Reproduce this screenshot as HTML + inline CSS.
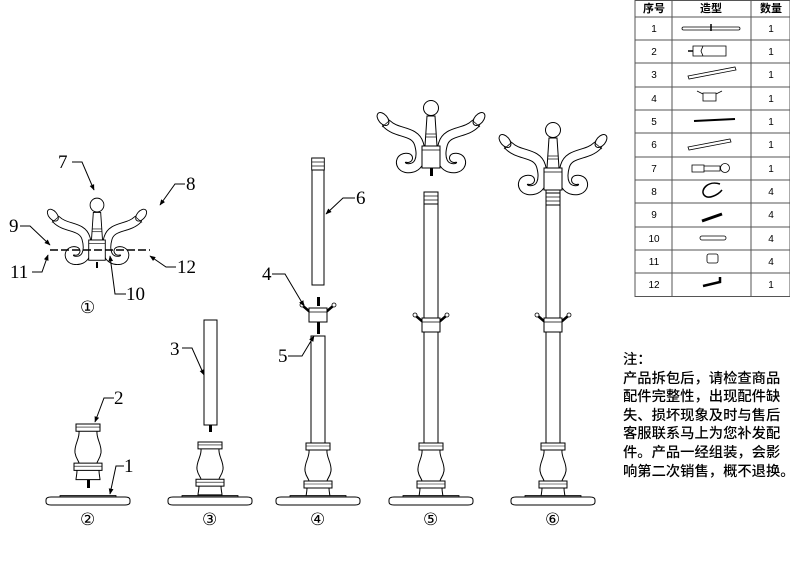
<!DOCTYPE html>
<html><head><meta charset="utf-8"><style>
html,body{margin:0;padding:0;background:#fff;width:790px;height:572px;overflow:hidden}
svg{display:block}
.t{font-family:"Liberation Serif",serif;font-size:19px;fill:#000}
.c{font-family:"Liberation Sans","DejaVu Sans",sans-serif;font-size:17px;fill:#000}
.tb{font-family:"Liberation Sans","Noto Sans CJK SC",sans-serif;font-size:10px;fill:#000}
.note{position:absolute;left:623px;top:351px;font-family:"Liberation Sans","Noto Sans CJK SC",sans-serif;font-size:14.3px;line-height:18.6px;color:#000;font-weight:500;white-space:pre}
</style></head><body>
<svg width="790" height="572" viewBox="0 0 790 572" xmlns="http://www.w3.org/2000/svg">
<defs>
<marker id="ar" viewBox="0 0 10 10" refX="9" refY="5" markerWidth="6" markerHeight="6" orient="auto"><path d="M0,1L10,5L0,9z" fill="#000"/></marker>
<g id="plate">
<path d="M-42,3 Q-42,0 -37,0 H37 Q42,0 42,3 V5 Q42,8 37,8 H-37 Q-42,8 -42,5Z" fill="#fff" stroke="#000" stroke-width="1"/>
<path d="M-28,0 V-1.5 H28 V0" fill="#444" stroke="#000" stroke-width="0.8"/>
</g>
<g id="vase">
<path d="M-12,0 H12 V7 H-12Z M-9,7 C-8,14 -14,20 -13,28 C-12,34 -9,36 -9,38 H9 C9,36 12,34 13,28 C14,20 8,14 9,7 M-14,38 H14 V45 H-14Z M-11,45 C-11,49 -12,52 -12,54 H12 C12,52 11,49 11,45" fill="#fff" stroke="#000" stroke-width="1"/>
<line x1="-12" y1="3" x2="12" y2="3" stroke="#000" stroke-width="0.6"/>
<line x1="-14" y1="41" x2="14" y2="41" stroke="#000" stroke-width="0.6"/>
</g>
<g id="arm">
<path d="M44,-22 C34,-12 16,-16 12,-2 C8,12 12,24 25,22 C33,20 31,10 23,12" fill="none" stroke="#000" stroke-width="10" stroke-linecap="round"/>
<path d="M44,-22 C34,-12 16,-16 12,-2 C8,12 12,24 25,22 C33,20 31,10 23,12" fill="none" stroke="#fff" stroke-width="8" stroke-linecap="round"/>
<ellipse cx="48" cy="-27" rx="4.5" ry="7.5" transform="rotate(40 48 -27)" fill="#fff" stroke="#000"/>
<line x1="42" y1="-25" x2="49" y2="-19" stroke="#000" stroke-width="0.8"/>
</g>
<g id="head">
<circle cx="0" cy="-38" r="7.5" fill="#fff" stroke="#000"/>
<path d="M-4,-30 H4 L6,0 H-6Z" fill="#fff" stroke="#000"/>
<line x1="-5" y1="-12" x2="5" y2="-12" stroke="#000" stroke-width="0.7"/>
<line x1="-5" y1="-9" x2="5" y2="-9" stroke="#000" stroke-width="0.7"/>
<use href="#arm"/><use href="#arm" transform="scale(-1,1)"/>
<rect x="-9" y="0" width="18" height="22" fill="#fff" stroke="#000"/>
<line x1="-9" y1="4" x2="9" y2="4" stroke="#000" stroke-width="0.7"/>
</g>
<g id="collar">
<path d="M-8,0 L-15,-6 M8,0 L15,-6" stroke="#000" stroke-width="2.5" fill="none"/>
<circle cx="-16" cy="-7" r="2" fill="#fff" stroke="#000" stroke-width="0.8"/>
<circle cx="16" cy="-7" r="2" fill="#fff" stroke="#000" stroke-width="0.8"/>
<rect x="-9" y="-4" width="18" height="14" fill="#fff" stroke="#000"/>
<line x1="-9" y1="0" x2="9" y2="0" stroke="#000" stroke-width="0.7"/>
</g>
<g id="cap">
<rect x="-7" y="0" width="14" height="12" fill="#fff" stroke="#000"/>
<line x1="-7" y1="4" x2="7" y2="4" stroke="#000" stroke-width="0.7"/>
<line x1="-7" y1="8" x2="7" y2="8" stroke="#000" stroke-width="0.7"/>
</g>
</defs>

<!-- Figure 1 -->
<g transform="translate(97,240) scale(0.92)">
<use href="#head"/>
</g>
<line x1="50" y1="250" x2="150" y2="250" stroke="#000" stroke-width="1.5" stroke-dasharray="8,3"/>
<line x1="97" y1="262" x2="97" y2="268" stroke="#000" stroke-width="2"/>
<text class="t" x="58" y="168">7</text>
<polyline points="72,162 82,162 94,190" fill="none" stroke="#000" marker-end="url(#ar)"/>
<text class="t" x="186" y="190">8</text>
<polyline points="185,184 175,184 160,205" fill="none" stroke="#000" marker-end="url(#ar)"/>
<text class="t" x="9" y="232">9</text>
<polyline points="20,226 30,226 50,245" fill="none" stroke="#000" marker-end="url(#ar)"/>
<text class="t" x="10" y="278">11</text>
<polyline points="32,272 42,272 48,255" fill="none" stroke="#000" marker-end="url(#ar)"/>
<text class="t" x="177" y="273">12</text>
<polyline points="176,267 166,267 150,256" fill="none" stroke="#000" marker-end="url(#ar)"/>
<text class="t" x="126" y="300">10</text>
<polyline points="126,294 115,294 110,256" fill="none" stroke="#000" marker-end="url(#ar)"/>
<text class="c" x="80" y="313">①</text>

<!-- Figure 2 -->
<rect x="87" y="478" width="3" height="10" fill="#000"/>
<use href="#vase" transform="translate(88,424) scale(1,1.03)"/>
<use href="#plate" transform="translate(88,497)"/>
<text class="t" x="114" y="404">2</text>
<polyline points="114,398 104,398 95,422" fill="none" stroke="#000" marker-end="url(#ar)"/>
<text class="t" x="124" y="472">1</text>
<polyline points="124,466 116,466 110,494" fill="none" stroke="#000" marker-end="url(#ar)"/>
<text class="c" x="80" y="525">②</text>

<!-- Figure 3 -->
<rect x="204" y="320" width="13" height="105" fill="#fff" stroke="#000"/>
<rect x="209" y="425" width="3" height="7" fill="#000"/>
<use href="#vase" transform="translate(210,442) scale(1,0.98)"/>
<use href="#plate" transform="translate(210,497)"/>
<text class="t" x="170" y="355">3</text>
<polyline points="182,348 192,348 204,375" fill="none" stroke="#000" marker-end="url(#ar)"/>
<text class="c" x="202" y="525">③</text>

<!-- Figure 4 -->
<rect x="312" y="160" width="12" height="125" fill="#fff" stroke="#000"/>
<use href="#cap" transform="translate(318,158) scale(0.9,1)"/>
<rect x="317" y="297" width="3" height="9" fill="#000"/>
<use href="#collar" transform="translate(318,312)"/>
<rect x="317" y="322" width="3" height="12" fill="#000"/>
<rect x="311" y="336" width="14" height="108" fill="#fff" stroke="#000"/>
<use href="#vase" transform="translate(318,443)"/>
<use href="#plate" transform="translate(318,497)"/>
<text class="t" x="356" y="204">6</text>
<polyline points="355,198 343,198 326,214" fill="none" stroke="#000" marker-end="url(#ar)"/>
<text class="t" x="262" y="280">4</text>
<polyline points="272,274 285,274 304,306" fill="none" stroke="#000" marker-end="url(#ar)"/>
<text class="t" x="278" y="362">5</text>
<polyline points="288,356 302,356 314,336" fill="none" stroke="#000" marker-end="url(#ar)"/>
<text class="c" x="310" y="525">④</text>

<!-- Figure 5 -->
<g transform="translate(431,146)"><use href="#head"/></g>
<rect x="430" y="168" width="3" height="8" fill="#000"/>
<rect x="424" y="192" width="14" height="252" fill="#fff" stroke="#000"/>
<use href="#cap" transform="translate(431,192)"/>
<use href="#collar" transform="translate(431,322)"/>
<use href="#vase" transform="translate(431,443)"/>
<use href="#plate" transform="translate(431,497)"/>
<text class="c" x="423" y="525">⑤</text>

<!-- Figure 6 -->
<rect x="546" y="190" width="14" height="254" fill="#fff" stroke="#000"/>
<use href="#cap" transform="translate(553,193)"/>
<g transform="translate(553,168)"><use href="#head"/></g>
<use href="#collar" transform="translate(553,322)"/>
<use href="#vase" transform="translate(553,443)"/>
<use href="#plate" transform="translate(553,497)"/>
<text class="c" x="545" y="525">⑥</text>

<!-- Table -->
<g stroke="#555" stroke-width="1" fill="none">
<rect x="635" y="0.5" width="155" height="296"/>
<line x1="672" y1="0" x2="672" y2="296"/>
<line x1="751" y1="0" x2="751" y2="296"/>
<line x1="635" y1="17" x2="790" y2="17"/>
<line x1="635" y1="40" x2="790" y2="40"/>
<line x1="635" y1="63" x2="790" y2="63"/>
<line x1="635" y1="87" x2="790" y2="87"/>
<line x1="635" y1="110" x2="790" y2="110"/>
<line x1="635" y1="133" x2="790" y2="133"/>
<line x1="635" y1="157" x2="790" y2="157"/>
<line x1="635" y1="180" x2="790" y2="180"/>
<line x1="635" y1="203" x2="790" y2="203"/>
<line x1="635" y1="227" x2="790" y2="227"/>
<line x1="635" y1="250" x2="790" y2="250"/>
<line x1="635" y1="273" x2="790" y2="273"/>
</g>
<g class="tb" text-anchor="middle">
<text x="654" y="12" font-weight="bold" font-size="11">序号</text>
<text x="711" y="12" font-weight="bold" font-size="11">造型</text>
<text x="771" y="12" font-weight="bold" font-size="11">数量</text>
<text x="654" y="32">1</text><text x="771" y="32">1</text>
<text x="654" y="55">2</text><text x="771" y="55">1</text>
<text x="654" y="78">3</text><text x="771" y="78">1</text>
<text x="654" y="102">4</text><text x="771" y="102">1</text>
<text x="654" y="125">5</text><text x="771" y="125">1</text>
<text x="654" y="148">6</text><text x="771" y="148">1</text>
<text x="654" y="172">7</text><text x="771" y="172">1</text>
<text x="654" y="195">8</text><text x="771" y="195">4</text>
<text x="654" y="218">9</text><text x="771" y="218">4</text>
<text x="654" y="242">10</text><text x="771" y="242">4</text>
<text x="654" y="265">11</text><text x="771" y="265">4</text>
<text x="654" y="288">12</text><text x="771" y="288">1</text>
</g>
<g fill="#fff" stroke="#000" stroke-width="0.8">
<rect x="682" y="27" width="58" height="3" rx="1.5"/><line x1="711" y1="24" x2="711" y2="31" stroke-width="1.5"/>
<path d="M693,46 H703 L701,51 L703,56 H693Z M703,46 H726 V56 H703"/><line x1="688" y1="51" x2="693" y2="51" stroke-width="1.5"/>
<path d="M688,76 L735,67 L736,70 L689,79Z"/>
<path d="M703,93 H716 V101 H703Z M703,94 L697,91 M716,94 L722,91"/>
<line x1="694" y1="121" x2="735" y2="119" stroke-width="2"/>
<path d="M688,147 L730,139 L731,142 L689,150Z"/>
<path d="M692,165 H704 V172 H692Z M704,166 H720 V171 H704"/><circle cx="725" cy="168" r="4.5"/>
<path d="M720,184 C708,180 700,190 704,195 C708,200 718,195 722,190" stroke-width="1.5" fill="none"/>
<line x1="702" y1="221" x2="722" y2="214" stroke-width="3"/>
<rect x="700" y="236" width="26" height="4" rx="2"/>
<rect x="707" y="254" width="11" height="9" rx="2"/>
<path d="M703,286 L720,282 V277" stroke-width="2.5" fill="none"/>
</g>
</svg>
<div class="note">注：
产品拆包后，请检查商品
配件完整性，出现配件缺
失、损坏现象及时与售后
客服联系马上为您补发配
件。产品一经组装，会影
响第二次销售，概不退换。</div>
</body></html>
